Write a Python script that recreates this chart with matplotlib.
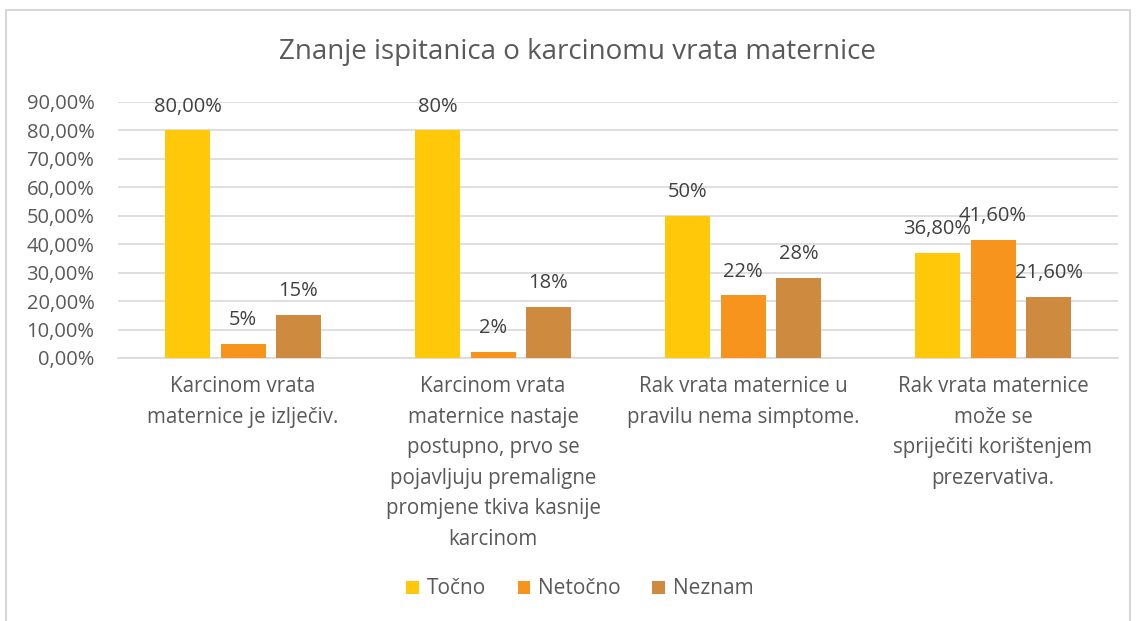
import matplotlib
matplotlib.use('Agg')
import matplotlib.pyplot as plt
import numpy as np
from matplotlib.patches import Rectangle
from matplotlib.ticker import FuncFormatter

plt.rcParams['font.family'] = ['Open Sans', 'DejaVu Sans']

categories = [
    "Karcinom vrata\nmaternice je izlječiv.",
    "Karcinom vrata\nmaternice nastaje\npostupno, prvo se\npojavljuju premaligne\npromjene tkiva kasnije\nkarcinom",
    "Rak vrata maternice u\npravilu nema simptome.",
    "Rak vrata maternice\nmože se\nspriječiti korištenjem\nprezervativa.",
]
series = ["Točno", "Netočno", "Neznam"]
values = [
    [0.80, 0.80, 0.50, 0.368],
    [0.05, 0.02, 0.22, 0.416],
    [0.15, 0.18, 0.28, 0.216],
]
labels = [
    ["80,00%", "80%", "50%", "36,80%"],
    ["5%", "2%", "22%", "41,60%"],
    ["15%", "18%", "28%", "21,60%"],
]
colors = ['#FFC90A', '#F7941D', '#CE8B3F']

text_col = '#595959'
grid_col = '#D9D9D9'

fig = plt.figure(figsize=(11.37, 6.21), dpi=100)
fig.patches.append(Rectangle((6 / 1137, -0.01), 1124 / 1137, 1 - 10 / 621 + 0.01,
                             transform=fig.transFigure, fill=False,
                             edgecolor='#D0D0D0', linewidth=1.2))
ax = fig.add_axes([118 / 1137, 1 - 358 / 621, 1000 / 1137, 256 / 621])

x = np.arange(len(categories))
width = 0.18
offsets = [-0.222, 0, 0.222]
for i, name in enumerate(series):
    bars = ax.bar(x + offsets[i], values[i], width, color=colors[i], label=name, zorder=3)
    for b, lab in zip(bars, labels[i]):
        ax.annotate(lab, (b.get_x() + b.get_width() / 2, b.get_height()),
                    textcoords="offset points", xytext=(0, 10), ha='center', va='bottom',
                    fontsize=14.5, color='#404040')

ax.set_xlim(-0.5, len(categories) - 0.5)
ax.set_ylim(0, 0.9)
ax.set_yticks(np.arange(0, 0.91, 0.1))
ax.yaxis.set_major_formatter(FuncFormatter(lambda v, p: f"{v * 100:.2f}%".replace('.', ',')))
ax.set_xticks(x)
ax.set_xticklabels(categories, fontsize=14.8, color=text_col, linespacing=1.6, va='top')
ax.tick_params(axis='y', length=0, labelsize=14.5, labelcolor=text_col, pad=17)
ax.tick_params(axis='x', length=0, pad=13)
ax.grid(axis='y', color=grid_col, linewidth=1.2, zorder=0)
for s in ['top', 'right', 'left']:
    ax.spines[s].set_visible(False)
ax.spines['bottom'].set_color(grid_col)
ax.spines['bottom'].set_linewidth(1.2)

fig.text(577 / 1137, 1 - 52 / 621, "Znanje ispitanica o karcinomu vrata maternice",
         ha='center', va='center', fontsize=20, color=text_col)

fig.legend(loc='center', bbox_to_anchor=(580 / 1137, 1 - 589 / 621), ncol=3, frameon=False,
           fontsize=15, labelcolor=text_col, handlelength=0.6, handleheight=0.6,
           handletextpad=0.4, columnspacing=1.5)

fig.savefig('out.png', dpi=100, facecolor='white')
